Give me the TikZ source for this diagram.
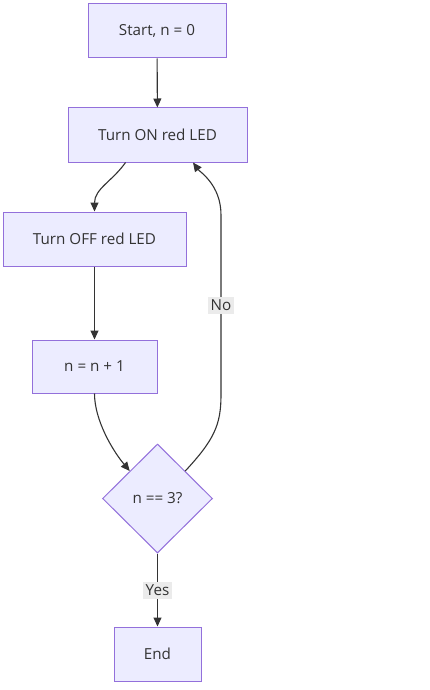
\documentclass[tikz,border=0pt]{standalone}
\usepackage{fontspec}
\setmainfont{Open Sans}
\usetikzlibrary{arrows.meta,shapes.geometric}
\definecolor{FlowFill}{HTML}{ECECFF}
\definecolor{FlowStroke}{HTML}{9370DB}
\definecolor{FlowLine}{HTML}{333333}
\definecolor{FlowLabel}{HTML}{EBEBEB}

\begin{document}
\begin{tikzpicture}[
  x=1pt, y=1pt,
  font=\fontsize{15.2}{17}\selectfont,
  every node/.style={text=FlowLine},
  box/.style={draw=FlowStroke, line width=1pt, fill=FlowFill, align=center,
    minimum height=54pt, inner sep=0pt},
  cond/.style={diamond, draw=FlowStroke, line width=1pt, fill=FlowFill,
    minimum width=110pt, minimum height=109pt, inner sep=0pt},
  lbl/.style={fill=FlowLabel, inner sep=3pt, font=\fontsize{15.2}{17}\selectfont},
  arr/.style={-{Triangle[length=9pt,width=8pt]}, line width=1.1pt, draw=FlowLine}
]
\useasboundingbox (0,0) rectangle (429,-690);
\node[box, minimum width=138pt] (start) at (157,-31) {Start, n = 0};
\node[box, minimum width=179pt] (on) at (157.5,-135) {Turn ON red LED};
\node[box, minimum width=183pt] (off) at (94.5,-239) {Turn OFF red LED};
\node[box, minimum width=125pt, minimum height=53pt] (inc) at (94.5,-366.5) {n = n + 1};
\node[cond] (check) at (157.5,-498.5) {n == 3?};
\node[box, minimum width=87pt] (stop) at (157.5,-654) {End};
\draw[arr] (start) -- (on);
\draw[arr] ([xshift=-32pt]on.south) to[out=-125,in=90] (off.north);
\draw[arr] (off) -- (inc);
\draw[arr] (inc.south) to[out=-90,in=130,looseness=0.8] (check.north west);
\draw[arr] (check.north east) .. controls (214,-440) and (221,-425) .. (221,-395)
  -- node[lbl] (no) {No} (221,-215)
  .. controls (221,-185) and (200,-172) .. ([xshift=35.5pt]on.south);
\draw[arr] (check.south) -- node[lbl] (yes) {Yes} (stop.north);
\end{tikzpicture}
\end{document}
